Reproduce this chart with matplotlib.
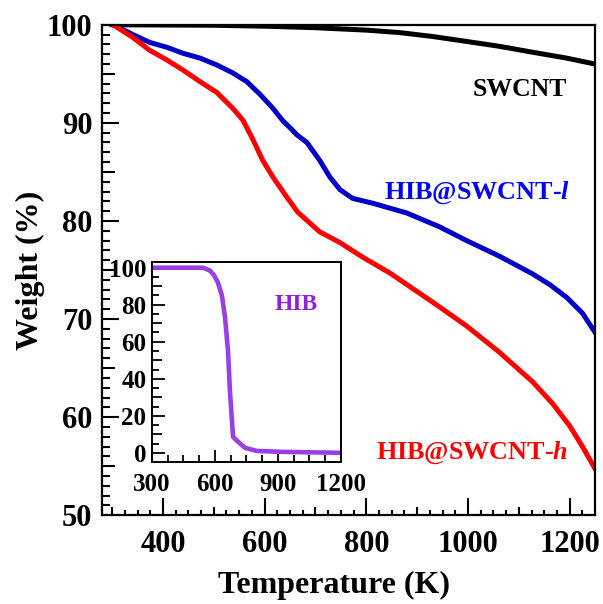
import numpy as np
import matplotlib.pyplot as plt
from matplotlib.ticker import MultipleLocator

plt.rcParams['font.family'] = 'Liberation Serif'
plt.rcParams['font.weight'] = 'bold'
plt.rcParams['axes.labelweight'] = 'bold'
plt.rcParams['mathtext.fontset'] = 'custom'
plt.rcParams['mathtext.rm'] = 'Liberation Serif:bold'
plt.rcParams['mathtext.it'] = 'Liberation Serif:italic:bold'

# TGA curves
temp_swcnt = [300, 500, 604, 700, 801, 866, 931, 997, 1062, 1127, 1194, 1249]
wt_swcnt = [100, 99.95, 99.85, 99.7, 99.45, 99.2, 98.8, 98.3, 97.8, 97.2, 96.6, 96.0]

temp_l = [302, 341, 374, 408, 439, 473, 506, 537, 565, 591, 616, 636, 650, 663, 683,
          708, 728, 748, 773, 813, 880, 944, 997, 1062, 1127, 1161, 1194, 1225, 1249]
wt_l = [100, 99.0, 98.2, 97.7, 97.1, 96.6, 95.9, 95.1, 94.2, 92.9, 91.5, 90.2, 89.5,
        88.8, 88.0, 86.2, 84.5, 83.2, 82.3, 81.8, 80.8, 79.4, 78.0, 76.4, 74.6, 73.5,
        72.2, 70.6, 68.7]

temp_h = [302, 341, 374, 408, 439, 473, 506, 537, 557, 577, 596, 616, 644, 665, 708,
          748, 793, 846, 866, 931, 997, 1062, 1127, 1166, 1200, 1225, 1249]
wt_h = [100, 98.7, 97.4, 96.4, 95.4, 94.2, 93.1, 91.5, 90.3, 88.3, 86.2, 84.5, 82.4,
        80.9, 78.9, 77.8, 76.3, 74.7, 74.0, 71.7, 69.3, 66.6, 63.6, 61.4, 59.1, 57.0,
        54.8]

temp_hib = [300, 543, 575, 595, 614, 633, 648, 662, 671, 686, 705, 743, 800, 924, 1200]
wt_hib = [100, 100, 98.5, 96, 92, 85, 73, 55, 34, 8.6, 6.5, 2.7, 1, 0.5, 0]


def set_tick_levels(axis, medium_step, medium_len):
    # minor ticks on a medium_step multiple get a longer length
    locs = axis.get_minorticklocs()
    for loc, tick in zip(locs, axis.get_minor_ticks(len(locs))):
        r = loc / medium_step
        if abs(r - round(r)) < 1e-6:
            tick.tick1line.set_markersize(medium_len)


fig = plt.figure(figsize=(6.03, 6.04), dpi=100)
ax = fig.add_axes([0.169, 0.147, 0.818, 0.812])

ax.plot(temp_swcnt, wt_swcnt, color='black', lw=3.6)
ax.plot(temp_l, wt_l, color='#0000c8', lw=3.6)
ax.plot(temp_h, wt_h, color='#ff0000', lw=3.6)

ax.set_xlim(280, 1250)
ax.set_ylim(50, 100)
ax.xaxis.set_major_locator(MultipleLocator(200))
ax.xaxis.set_minor_locator(MultipleLocator(25))
ax.yaxis.set_major_locator(MultipleLocator(10))
ax.yaxis.set_minor_locator(MultipleLocator(1))
ax.tick_params(which='both', direction='in', top=False, right=False, width=1.5,
               labelsize=22)
ax.tick_params(axis='x', which='major', length=12, pad=11)
ax.tick_params(axis='x', which='minor', length=3.5)
ax.tick_params(axis='y', which='major', length=12, pad=7)
ax.tick_params(axis='y', which='minor', length=6)
set_tick_levels(ax.xaxis, 100, 6)
set_tick_levels(ax.yaxis, 5, 9)
for s in ax.spines.values():
    s.set_linewidth(1.6)

ax.set_xlabel('Temperature (K)', fontsize=23, fontweight='bold')
ax.xaxis.set_label_coords(0.47, -0.113, transform=ax.transAxes)
ax.set_ylabel('Weight (%)', fontsize=23, fontweight='bold', labelpad=1)

ax.text(1102, 93.4, 'SWCNT', fontsize=18.5, color='black', ha='center', va='center')
ax.text(1017, 82.9, r'HIB@SWCNT-$\mathit{l}$', fontsize=18.8, color='#0000ff',
        ha='center', va='center')
ax.text(1007, 56.4, r'HIB@SWCNT-$\mathit{h}$', fontsize=18.8, color='#ff0000',
        ha='center', va='center')

# inset: pure HIB
ins = fig.add_axes([0.252, 0.235, 0.3135, 0.331])
ins.plot(temp_hib, wt_hib, color='#9a3fe6', lw=3.3)
ins.set_xlim(300, 1200)
ins.set_ylim(-5, 103)
ins.xaxis.set_major_locator(MultipleLocator(300))
ins.xaxis.set_minor_locator(MultipleLocator(75))
ins.yaxis.set_major_locator(MultipleLocator(20))
ins.yaxis.set_minor_locator(MultipleLocator(5))
ins.tick_params(which='both', direction='in', top=False, right=False, width=1.3,
                labelsize=18)
ins.tick_params(which='major', length=9)
ins.tick_params(which='minor', length=5)
ins.tick_params(axis='x', pad=8)
ins.tick_params(axis='y', pad=4)
set_tick_levels(ins.yaxis, 10, 7)
for s in ins.spines.values():
    s.set_linewidth(1.4)
ins.text(986, 80, 'HIB', fontsize=17, color='#9020e0', ha='center', va='center')

fig.savefig('out.png', dpi=100)
